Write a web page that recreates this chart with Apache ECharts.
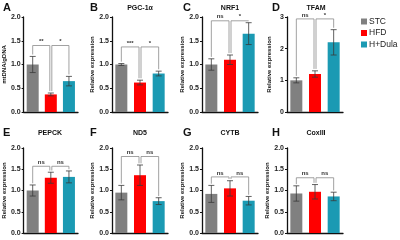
<!DOCTYPE html>
<html>
<head>
<meta charset="utf-8">
<script src="https://cdn.jsdelivr.net/npm/echarts@6/dist/echarts.min.js"></script>
<style>
  html, body { margin: 0; padding: 0; background: #fff; }
  #chart { width: 400px; height: 240px; }
</style>
</head>
<body>
<div id="chart"></div>
<script>
// groups and colours
const groups = ["STC", "HFD", "H+Dula"];
const colors = ["#808080", "#ff0000", "#1b9ab3"];

// panels
const letters = ["A", "B", "C", "D", "E", "F", "G", "H"];
const titles = ["", "PGC-1α", "NRF1", "TFAM", "PEPCK", "ND5", "CYTB", "CoxIII"];
const yNames = ["mtDNA/gDNA", "Relative expression", "Relative expression", "Relative expression",
  "Relative expression", "Relative expression", "Relative expression", "Relative expression"];

// bar heights (mean) and error bars (sd), per panel: STC, HFD, H+Dula
const means = [
  [1.0, 0.37, 0.65],
  [1.0, 0.62, 0.81],
  [1.0, 1.1, 1.65],
  [1.0, 1.2, 2.2],
  [1.0, 1.3, 1.32],
  [0.95, 1.36, 0.75],
  [0.92, 1.05, 0.76],
  [0.93, 0.97, 0.86]
];
const sds = [
  [0.17, 0.03, 0.1],
  [0.02, 0.05, 0.05],
  [0.12, 0.1, 0.23],
  [0.08, 0.1, 0.4],
  [0.13, 0.13, 0.14],
  [0.17, 0.24, 0.08],
  [0.2, 0.18, 0.1],
  [0.18, 0.17, 0.1]
];

// y axis ranges
const yMax = [2, 2, 2, 3, 2, 2, 2, 2];
const yStep = [0.5, 0.5, 0.5, 1, 0.5, 0.5, 0.5, 0.5];

// significance brackets: [from, to, height, label]
const brackets = [
  [[0, 1, 1.4, "**"], [1, 2, 1.4, "*"]],
  [[0, 1, 1.37, "***"], [1, 2, 1.37, "*"]],
  [[0, 1, 1.92, "ns"], [1, 2, 1.92, "*"]],
  [[0, 1, 2.94, "ns"], [1, 2, 2.94, "*"]],
  [[0, 1, 1.57, "ns"], [1, 2, 1.57, "ns"]],
  [[0, 1, 1.8, "ns"], [1, 2, 1.8, "ns"]],
  [[0, 1, 1.32, "ns"], [1, 2, 1.32, "ns"]],
  [[0, 1, 1.3, "ns"], [1, 2, 1.3, "ns"]]
];

const font = "'Liberation Sans', Arial, sans-serif";
const lefts = [22, 112, 202, 287];
const tops = [17, 148];
const heights = [95, 85];
const letterX = [3, 90, 183, 272];
const letterY = [2, 127];
const titleX = [50, 140, 230, 316];

const myChart = echarts.init(document.getElementById("chart"));

const grid = [], xAxis = [], yAxis = [], series = [], title = [];

letters.forEach((letter, p) => {
  const col = p % 4, row = Math.floor(p / 4);
  grid.push({ left: lefts[col], top: tops[row], width: 56, height: heights[row] });

  xAxis.push({
    type: "category", gridIndex: p, data: groups,
    axisLine: { lineStyle: { color: "#111", width: 1.3 } },
    axisTick: { alignWithLabel: true, length: 2, lineStyle: { color: "#111" } },
    axisLabel: { show: false }
  });

  yAxis.push({
    type: "value", gridIndex: p, min: 0, max: yMax[p], interval: yStep[p],
    name: yNames[p], nameLocation: "middle", nameRotate: 90, nameGap: 15,
    nameTextStyle: { fontSize: 6, fontWeight: "bold", color: "#111", fontFamily: font },
    axisLine: { show: true, lineStyle: { color: "#111", width: 1.3 } },
    axisTick: { show: true, length: 2, lineStyle: { color: "#111" } },
    splitLine: { show: false },
    axisLabel: {
      fontSize: 7, fontWeight: "bold", color: "#222", fontFamily: font, margin: 3,
      formatter: v => yStep[p] < 1 ? v.toFixed(1) : String(v)
    }
  });

  title.push({
    text: letter, left: letterX[col], top: letterY[row], padding: 0,
    textStyle: { fontSize: 11, fontWeight: "bold", color: "#111", fontFamily: font }
  });
  if (titles[p]) {
    title.push({
      text: titles[p], left: titleX[col], top: letterY[row] + 3, textAlign: "center", padding: 0,
      textStyle: { fontSize: 7, fontWeight: "bold", color: "#111", fontFamily: font }
    });
  }

  // bars, one series per group so the legend can pick them up
  groups.forEach((g, gi) => {
    series.push({
      type: "bar", name: g, xAxisIndex: p, yAxisIndex: p,
      data: groups.map((_, k) => (k === gi ? means[p][k] : "-")),
      barWidth: 12, barGap: "-100%",
      itemStyle: { color: colors[gi] },
      silent: true
    });
  });

  // error bars
  series.push({
    type: "custom", xAxisIndex: p, yAxisIndex: p, silent: true, z: 5,
    data: means[p].map((m, k) => [k, m, sds[p][k]]),
    encode: { x: 0, y: 1 },
    renderItem: (params, api) => {
      const k = api.value(0), m = api.value(1), s = api.value(2);
      const top = api.coord([k, m + s]);
      const bot = api.coord([k, m - s]);
      const hw = 3;
      const st = { stroke: "#3a3a3a", lineWidth: 0.8 };
      return {
        type: "group",
        children: [
          { type: "line", shape: { x1: top[0], y1: top[1], x2: bot[0], y2: bot[1] }, style: st },
          { type: "line", shape: { x1: top[0] - hw, y1: top[1], x2: top[0] + hw, y2: top[1] }, style: st },
          { type: "line", shape: { x1: bot[0] - hw, y1: bot[1], x2: bot[0] + hw, y2: bot[1] }, style: st }
        ]
      };
    }
  });

  // significance brackets
  const br = brackets[p];
  series.push({
    type: "custom", xAxisIndex: p, yAxisIndex: p, silent: true, z: 6,
    data: br.map(b => [b[0], b[1], b[2]]),
    encode: { x: 0, y: 2 },
    renderItem: (params, api) => {
      const b = br[params.dataIndex];
      const a = b[0], c = b[1], h = b[2];
      const gap = yMax[p] * 0.02;
      const legA = means[p][a] + sds[p][a] + gap;
      const legC = means[p][c] + sds[p][c] + gap;
      const pTop = api.coord([a, h]);
      const pTopC = api.coord([c, h]);
      const pA = api.coord([a, legA]);
      const pC = api.coord([c, legC]);
      const off = 1;
      const x1 = pTop[0] + (a === 1 ? off : 0);
      const x2 = pTopC[0] - (c === 1 ? off : 0);
      return {
        type: "group",
        children: [
          {
            type: "polyline",
            shape: { points: [[x1, pA[1]], [x1, pTop[1]], [x2, pTop[1]], [x2, pC[1]]] },
            style: { stroke: "#8a8a8a", lineWidth: 0.8, fill: null }
          },
          {
            type: "text",
            style: {
              x: (x1 + x2) / 2, y: pTop[1] - 1, text: b[3],
              align: "center", verticalAlign: "bottom",
              fontSize: 6, fontWeight: "bold", fill: "#333", fontFamily: font
            }
          }
        ]
      };
    }
  });
});

const option = {
  animation: false,
  title: title,
  grid: grid,
  xAxis: xAxis,
  yAxis: yAxis,
  legend: {
    data: groups, orient: "vertical", left: 361, top: 17, padding: 0,
    icon: "rect", itemWidth: 6, itemHeight: 6, itemGap: 2.5,
    textStyle: { fontSize: 8.5, color: "#222", fontFamily: font, padding: [0, 0, 0, -3] },
    selectedMode: false
  },
  series: series
};

myChart.setOption(option);
window.addEventListener("resize", () => myChart.resize());
</script>
</body>
</html>
